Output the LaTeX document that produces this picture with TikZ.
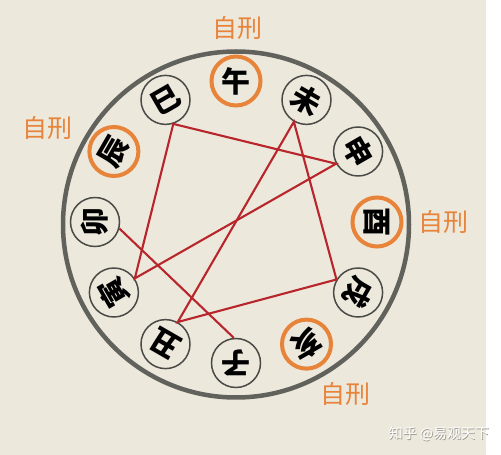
\documentclass[tikz,border=0pt]{standalone}
\usepackage{fontspec}
\usepackage{graphicx}
\newfontfamily\cjk{Noto Sans CJK SC}
\definecolor{bg}{HTML}{ECE8DC}
\definecolor{ringgray}{HTML}{62625D}
\definecolor{brgray}{HTML}{4A4A46}
\definecolor{orng}{HTML}{E8833A}
\definecolor{redl}{HTML}{B8262B}
\definecolor{wmshadow}{HTML}{9C988E}
\begin{document}
\begin{tikzpicture}[x=1pt,y=1pt,
  br/.style={circle, draw=brgray, line width=1.5pt, minimum size=49pt, inner sep=0pt},
  selfbr/.style={br, draw=orng, line width=4pt},
  chr/.style={inner sep=0pt, font=\cjk\bfseries\fontsize{29}{29}\selectfont},
  lbl/.style={font=\cjk\fontsize{25}{25}\selectfont, text=orng, inner sep=0pt},
  rl/.style={draw=redl, line width=2.1pt, line join=miter},
  wm/.style={font=\cjk\fontsize{14}{14}\selectfont, inner sep=0pt}]
\useasboundingbox (0,0) rectangle (501,455);
\fill[white] (0,0) rectangle (501,455);
\fill[bg] (0,0) rectangle (486,455);
\coordinate (O) at (236,233);
\coordinate (C) at (236,230.5);
\draw[ringgray, line width=4.5pt] (C) circle[radius=173];
\foreach \n/\c/\a/\s [evaluate=\a as \r using \a-90] in
  {wu/午/90/selfbr, wei/未/60/br, shen/申/30/br, you/酉/0/selfbr,
   xu/戌/-30/br, hai/亥/-60/selfbr, zi/子/-90/br, chou/丑/-120/br,
   yin/寅/-150/br, mao/卯/180/br, chen/辰/150/selfbr, si/巳/120/br}
  {\node[\s] (\n) at ([shift={(O)}]\a:141) {};
   \node[chr, rotate=\r] (\n t) at (\n) {\c};}
\draw[rl] (si.-72) -- (yin.34) -- (shen.209) -- cycle;
\draw[rl] (wei.-120) -- (chou.61) -- (xu.149) -- cycle;
\draw[rl] (mao.-15) -- (zi.95);
\node[lbl] (l1) at (237,427) {自刑};
\node[lbl] (l2) at (47,327) {自刑};
\node[lbl] (l3) at (443,233) {自刑};
\node[lbl] (l4) at (345,61) {自刑};
\node[wm, text=wmshadow] (wms) at (439.7,20.3) {知乎 @易观天下};
\node[wm, text=white] (wmt) at (439,21) {知乎 @易观天下};
\end{tikzpicture}
\end{document}
